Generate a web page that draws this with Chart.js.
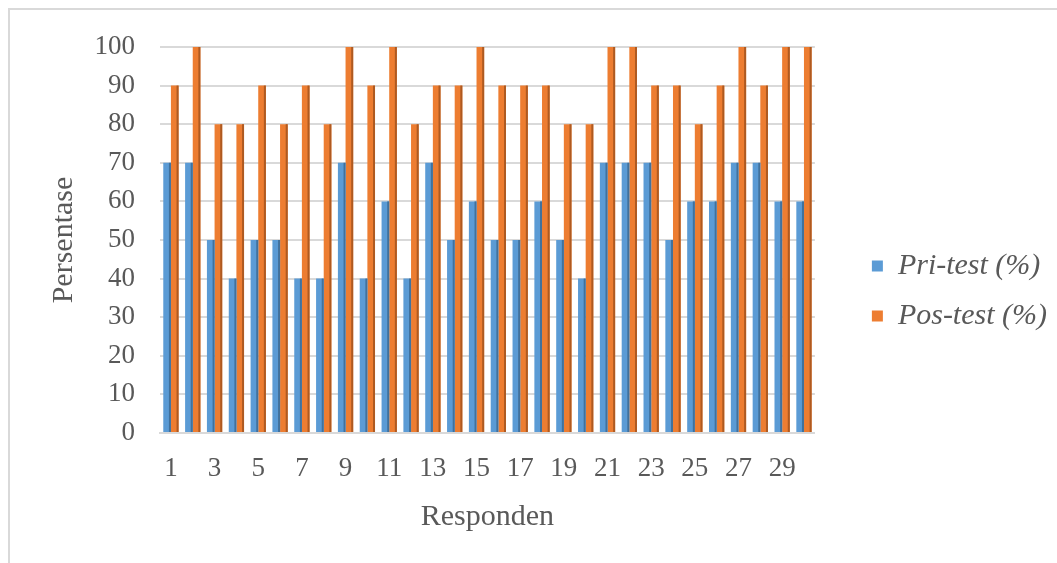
<!DOCTYPE html>
<html>
<head>
<meta charset="utf-8">
<script src="https://cdn.jsdelivr.net/npm/chart.js@4.4.0/dist/chart.umd.min.js"></script>
<style>
  html, body { margin: 0; padding: 0; background: #fff; }
  #frame {
    position: absolute; left: 8px; top: 8px; width: 1049px; height: 555px;
    border-left: 2px solid #d9d9d9; border-top: 2px solid #d9d9d9;
  }
  #wrap { position: absolute; left: 0; top: 0; width: 1057px; height: 563px; }
</style>
</head>
<body>
<div id="frame"></div>
<div id="wrap"><canvas id="chart-bar"></canvas></div>
<script>
var responden = [];
for (var i = 1; i <= 30; i++) {
    responden.push(String(i));
}

var priTest = [70, 70, 50, 40, 50, 50, 40, 40, 70, 40,
               60, 40, 70, 50, 60, 50, 50, 60, 50, 40,
               70, 70, 70, 50, 60, 60, 70, 70, 60, 60];

var posTest = [90, 100, 80, 80, 90, 80, 90, 80, 100, 90,
               100, 80, 90, 90, 100, 90, 90, 90, 80, 80,
               100, 100, 90, 90, 80, 90, 100, 90, 100, 100];

var textColor = '#595959';
var serif = "'Liberation Serif', 'Times New Roman', serif";

// darker strip on the right side of each bar, like the 3D look of the original
var barSide = {
    id: 'barSide',
    afterDatasetsDraw: function (chart) {
        var ctx = chart.ctx;
        var sides = ['#41719c', '#ae5a21'];
        chart.data.datasets.forEach(function (ds, di) {
            chart.getDatasetMeta(di).data.forEach(function (bar) {
                var w = 2;
                ctx.save();
                ctx.fillStyle = sides[di];
                ctx.fillRect(bar.x + bar.width / 2 - w, bar.y, w, bar.base - bar.y);
                ctx.restore();
            });
        });
    }
};

var ctx1 = document.getElementById('chart-bar').getContext('2d');

var myChart = new Chart(ctx1, {
    type: 'bar',
    data: {
        labels: responden,
        datasets: [
            {
                label: 'Pri-test (%)',
                backgroundColor: '#5b9bd5',
                data: priTest,
                categoryPercentage: 0.7,
                barPercentage: 1.0
            },
            {
                label: 'Pos-test (%)',
                backgroundColor: '#ed7d31',
                data: posTest,
                categoryPercentage: 0.7,
                barPercentage: 1.0
            }
        ]
    },
    plugins: [barSide],
    options: {
        responsive: true,
        maintainAspectRatio: false,
        animation: false,
        layout: {
            padding: { left: 46, right: 0, top: 47, bottom: 28 }
        },
        plugins: {
            legend: {
                display: true,
                position: 'right',
                maxWidth: 215,
                labels: {
                    color: textColor,
                    boxWidth: 11,
                    boxHeight: 11,
                    padding: 20,
                    font: { family: serif, size: 30, style: 'italic' }
                }
            },
            tooltip: { enabled: false }
        },
        scales: {
            y: {
                min: 0,
                max: 100,
                border: { display: false },
                grid: {
                    color: '#d9d9d9',
                    lineWidth: 2,
                    drawTicks: false
                },
                ticks: {
                    stepSize: 10,
                    padding: 25,
                    color: textColor,
                    font: { family: serif, size: 27 }
                },
                title: {
                    display: true,
                    text: 'Persentase',
                    color: textColor,
                    padding: 0,
                    font: { family: serif, size: 30 }
                },
                afterFit: function (scale) {
                    scale.width = 114;
                }
            },
            gap: {
                // empty right axis: keeps the space between plot and legend
                position: 'right',
                display: true,
                border: { display: false },
                grid: { display: false },
                ticks: { display: false },
                afterFit: function (scale) {
                    scale.width = 37;
                }
            },
            x: {
                border: { display: true, color: '#d9d9d9', width: 2 },
                grid: { display: false },
                ticks: {
                    autoSkip: false,
                    maxRotation: 0,
                    padding: 12,
                    color: textColor,
                    font: { family: serif, size: 27 },
                    callback: function (value, index) {
                        return index % 2 === 0 ? this.getLabelForValue(value) : '';
                    }
                },
                title: {
                    display: true,
                    text: 'Responden',
                    color: textColor,
                    padding: 0,
                    font: { family: serif, size: 30 }
                },
                afterFit: function (scale) {
                    scale.height = 102;
                }
            }
        }
    }
});
</script>
</body>
</html>
